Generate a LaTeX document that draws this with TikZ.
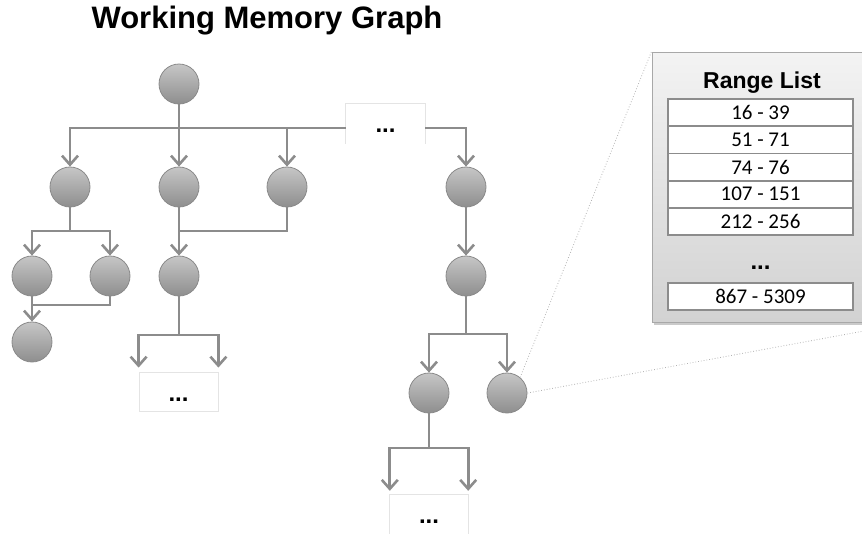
\documentclass[tikz,border=0pt]{standalone}
\usepackage{fontspec}
\setmainfont{Liberation Sans}
\newfontfamily\calib{Carlito}
\usetikzlibrary{arrows.meta,shadows}
\definecolor{lg}{HTML}{8C8C8C}
\definecolor{circb}{HTML}{8A8A8A}
\definecolor{ctop}{HTML}{C6C6C6}
\definecolor{cbot}{HTML}{8E8E8E}
\definecolor{ptop}{HTML}{F3F3F3}
\definecolor{pbot}{HTML}{D2D2D2}
\definecolor{pbord}{HTML}{A8A8A8}
\definecolor{faint}{HTML}{E4E4E4}
\begin{document}
\begin{tikzpicture}[x=1pt,y=-1pt,
  circ/.style={circle,minimum size=40pt,inner sep=0pt,draw=circb,line width=0.8pt,top color=ctop,bottom color=cbot},
  conn/.style={draw=lg,line width=2.8pt},
  arr/.style={conn,-{Straight Barb[length=9pt,width=16pt,line width=2.6pt]}},
  dotbox/.style={fill=white,draw=none,inner sep=0pt},
  ell/.style={inner sep=0pt,font=\bfseries\fontsize{24}{28}\selectfont},
  panelbox/.style={rectangle,draw=pbord,line width=1pt,top color=ptop,bottom color=pbot,inner sep=0pt,
    drop shadow={shadow xshift=2pt,shadow yshift=-3pt,fill=black!35,opacity=0.6}},
  rowbox/.style={rectangle,draw=lg,line width=1.8pt,fill=white,inner sep=0pt,minimum width=185pt,minimum height=27.2pt,
    font=\calib\fontsize{21}{24}\selectfont},
  guide/.style={draw=black!30,dotted,line width=0.8pt}
]
\useasboundingbox (0,0) rectangle (862,533);

% title
\node[font=\bfseries\fontsize{31}{36}\selectfont] (title) at (267,21) {Working Memory Graph};

% circles
\node[circ] (r) at (179,84) {};
\node[circ] (a) at (70,187) {};
\node[circ] (b) at (179,187) {};
\node[circ] (c) at (287,187) {};
\node[circ] (d) at (466,187) {};
\node[circ] (a1) at (32,276) {};
\node[circ] (a2) at (110,276) {};
\node[circ] (a3) at (32,342) {};
\node[circ] (b1) at (179,276) {};
\node[circ] (d1) at (466,276) {};
\node[circ] (d2) at (429,393) {};
\node[circ] (d3) at (507,393) {};

% "..." boxes
\node[dotbox,minimum width=79pt,minimum height=40pt] (top) at (385.5,124) {};
\draw[faint,line width=0.8pt] (top.south west) -- (top.north west) -- (top.north east) -- (top.south east);
\node[ell] (topdots) at (385.5,131) {...};

\node[dotbox,draw=faint,line width=0.8pt,minimum width=79pt,minimum height=39pt] (bbox) at (178.5,391.5) {};
\node[ell] (bdots) at (178.5,400) {...};

\node[dotbox,minimum width=78pt,minimum height=50pt] (cbox) at (429,520) {};
\draw[faint,line width=0.8pt] (cbox.south west) -- (cbox.north west) -- (cbox.north east) -- (cbox.south east);
\node[ell] (cdots) at (429,521.5) {...};

% junctions
\coordinate (j0) at (179,128);
\coordinate (ja) at (70,231);
\coordinate (jb) at (32,305);
\coordinate (jc) at (179,231);
\coordinate (jd) at (179,335);
\coordinate (je) at (466,334);
\coordinate (jf) at (429,448);

% connectors
\draw[conn] (r) -- (j0);
\draw[arr] (j0) -| (a);
\draw[arr] (j0) -- (b);
\draw[arr] (j0) -| (c);
\draw[conn] (j0) -- (top.west |- j0);
\draw[arr] (top.east |- j0) -| (d);

\draw[conn] (a) -- (ja);
\draw[arr] (ja) -| (a1);
\draw[arr] (ja) -| (a2);
\draw[arr] (a1) -- (a3);
\draw[conn] (a2) |- (jb);

\draw[arr] (b) -- (b1);
\draw[conn] (c) |- (jc);
\draw[conn] (b1) -- (jd);
\draw[arr] (jd) -| ([yshift=4pt]bbox.north west);
\draw[arr] (jd) -| ([yshift=4pt]bbox.north east);

\draw[arr] (d) -- (d1);
\draw[conn] (d1) -- (je);
\draw[arr] (je) -| (d2);
\draw[arr] (je) -| (d3);
\draw[conn] (d2) -- (jf);
\draw[arr] (jf) -| ([yshift=4pt]cbox.north west);
\draw[arr] (jf) -| ([yshift=4pt]cbox.north east);

% range list panel
\node[panelbox,minimum width=218pt,minimum height=270pt] (panel) at (761,187) {};
\node[font=\bfseries\fontsize{23}{27}\selectfont] (rtitle) at (762,83) {Range List};
\node[rowbox] (r1) at (760.5,112.6) {16 - 39};
\node[rowbox] (r2) at (760.5,139.8) {51 - 71};
\node[rowbox] (r3) at (760.5,167.0) {74 - 76};
\node[rowbox] (r4) at (760.5,194.2) {107 - 151};
\node[rowbox] (r5) at (760.5,221.4) {212 - 256};
\node[ell] (pdots) at (760.5,268) {...};
\node[rowbox] (r6) at (760.5,296.5) {867 - 5309};

% zoom guides
\coordinate (pe) at (864,331);
\draw[guide] (d3.50) -- (panel.north west);
\draw[guide] (d3.east) -- (pe);
\end{tikzpicture}
\end{document}
